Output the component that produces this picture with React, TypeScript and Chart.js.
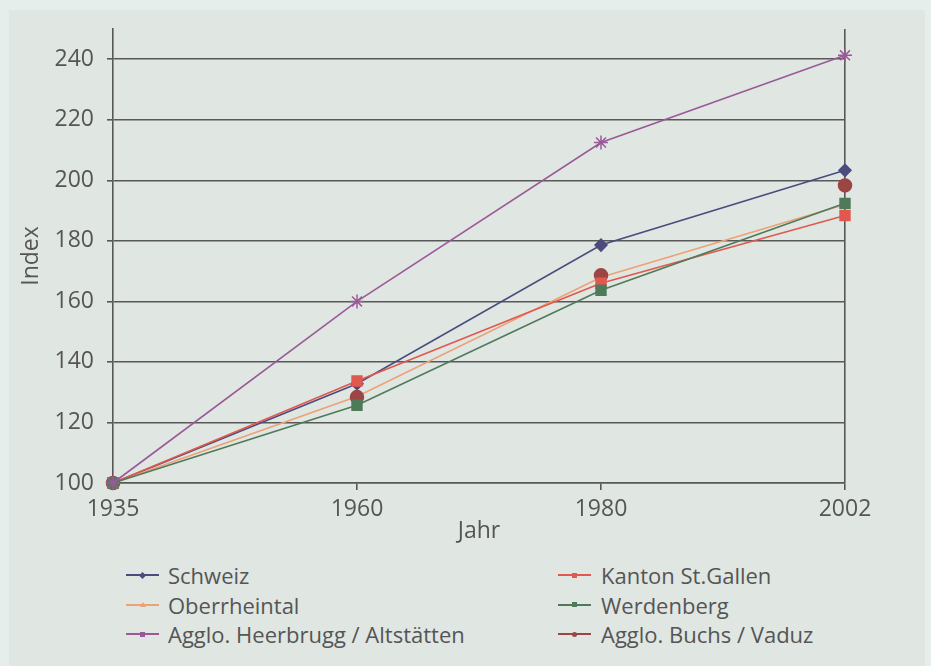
import React, { useEffect, useRef } from "react";
import { Chart, registerables } from "chart.js";

Chart.register(...registerables);

const years = ["1935", "1960", "1980", "2002"];
const schweiz = [100, 132.8, 178.6, 203.3];
const kantonStGallen = [100, 133.7, 166, 188.4];
const oberrheintal = [100, 128.6, 168, 192];
const werdenberg = [100, 125.7, 163.7, 192.4];
const heerbrugg = [100, 160, 212.5, 241.3];
const buchsVaduz = [100, 128.4, 168.6, 198.3];
const yTicks = [100, 120, 140, 160, 180, 200, 220, 240];

const FONT = "'Open Sans', 'Noto Sans', sans-serif";
const TXT = "#555555";
const GRID = "#585858";

const C_SCHWEIZ = "#4b4c7e";
const C_KANTON = "#e0584e";
const C_OBER = "#eca277";
const C_WERD = "#4f7a5a";
const C_HEER = "#9a5a98";
const C_BUCHS = "#9b4545";

type LegendItem = { label: string; color: string; marker: string };
const legendLeft: LegendItem[] = [
  { label: "Schweiz", color: C_SCHWEIZ, marker: "diamond" },
  { label: "Oberrheintal", color: C_OBER, marker: "triangle" },
  { label: "Agglo. Heerbrugg / Altstätten", color: C_HEER, marker: "square" },
];
const legendRight: LegendItem[] = [
  { label: "Kanton St.Gallen", color: C_KANTON, marker: "square" },
  { label: "Werdenberg", color: C_WERD, marker: "square" },
  { label: "Agglo. Buchs / Vaduz", color: C_BUCHS, marker: "circle" },
];

function Marker({ type, color }: { type: string; color: string }) {
  const base: React.CSSProperties = {
    position: "absolute",
    left: "50%",
    top: "50%",
  };
  if (type === "triangle") {
    return (
      <div
        style={{
          ...base,
          width: 0,
          height: 0,
          marginLeft: -3,
          marginTop: -3,
          borderLeft: "3px solid transparent",
          borderRight: "3px solid transparent",
          borderBottom: `5px solid ${color}`,
        }}
      />
    );
  }
  const s = 5;
  return (
    <div
      style={{
        ...base,
        width: s,
        height: s,
        marginLeft: -s / 2,
        marginTop: -s / 2,
        background: color,
        borderRadius: type === "circle" ? "50%" : 0,
        transform: type === "diamond" ? "rotate(45deg)" : undefined,
      }}
    />
  );
}

function LegendColumn({ items, left, textLeft }: { items: LegendItem[]; left: number; textLeft: number }) {
  return (
    <>
      {items.map((it, i) => {
        const cy = 575 + i * 29.5;
        return (
          <React.Fragment key={it.label}>
            <div style={{ position: "absolute", left, top: cy - 6, width: 33, height: 12 }}>
              <div
                style={{
                  position: "absolute",
                  left: 0,
                  right: 0,
                  top: 5,
                  height: 2,
                  background: it.color,
                }}
              />
              <Marker type={it.marker} color={it.color} />
            </div>
            <div
              style={{
                position: "absolute",
                left: textLeft,
                top: cy - 16,
                height: 32,
                lineHeight: "32px",
                fontFamily: FONT,
                fontSize: 22,
                color: TXT,
                whiteSpace: "nowrap",
              }}
            >
              {it.label}
            </div>
          </React.Fragment>
        );
      })}
    </>
  );
}

export default function App() {
  const canvasRef = useRef<HTMLCanvasElement | null>(null);

  useEffect(() => {
    document.body.style.margin = "0";
    document.body.style.background = "#e6eeeb";
    const canvas = canvasRef.current;
    if (!canvas) return;

    const mk = (
      label: string,
      data: number[],
      color: string,
      pointStyle: any,
      radius: number,
      order: number,
      showLine = true
    ) => ({
      label,
      data,
      borderColor: color,
      backgroundColor: color,
      pointBackgroundColor: color,
      pointBorderColor: color,
      pointStyle,
      pointRadius: radius,
      pointBorderWidth: 1.5,
      borderWidth: 1.6,
      tension: 0,
      order,
      showLine,
      clip: false as any,
    });

    const chart = new Chart(canvas, {
      type: "line",
      data: {
        labels: years,
        datasets: [
          mk("Schweiz", schweiz, C_SCHWEIZ, "rectRot", 6, 6),
          mk("Oberrheintal", oberrheintal, C_OBER, "triangle", 3, 5),
          mk("Agglo. Heerbrugg / Altstätten", heerbrugg, C_HEER, "star", 7, 1),
          mk("Kanton St.Gallen", kantonStGallen, C_KANTON, "rect", 7, 3),
          mk("Werdenberg", werdenberg, C_WERD, "rect", 7, 2),
          mk("Agglo. Buchs / Vaduz", buchsVaduz, C_BUCHS, "circle", 6.5, 4, false),
        ],
      },
      options: {
        animation: false,
        responsive: false,
        maintainAspectRatio: false,
        layout: { padding: { top: 29, right: 86, left: 0, bottom: 0 } },
        plugins: {
          legend: { display: false },
          tooltip: { enabled: false },
        },
        scales: {
          x: {
            type: "category",
            offset: false,
            afterFit: (s: any) => {
              s.height = 65;
            },
            grid: {
              color: (ctx: any) => (ctx.index === 3 ? GRID : "rgba(0,0,0,0)"),
              tickColor: GRID,
              lineWidth: 1.6,
              tickLength: 7,
              drawTicks: true,
            },
            border: { color: GRID, width: 1.6 },
            ticks: {
              color: TXT,
              font: { family: FONT, size: 23 },
              padding: 6,
              maxRotation: 0,
            },
            title: {
              display: true,
              text: "Jahr",
              color: TXT,
              font: { family: FONT, size: 23 },
              padding: { top: 0, bottom: 3 },
            },
          },
          y: {
            min: 100,
            max: 250,
            afterBuildTicks: (s: any) => {
              s.ticks = yTicks.map((v) => ({ value: v }));
            },
            afterFit: (s: any) => {
              s.width = 113;
            },
            grid: {
              color: GRID,
              lineWidth: 1.6,
              tickLength: 6,
              drawTicks: true,
            },
            border: { color: GRID, width: 1.6 },
            ticks: {
              color: TXT,
              font: { family: FONT, size: 23 },
              padding: 13,
            },
            title: {
              display: true,
              text: "Index",
              color: TXT,
              font: { family: FONT, size: 23 },
              padding: { top: 18, bottom: 0 },
            },
          },
        },
      },
    });
    return () => chart.destroy();
  }, []);

  return (
    <div style={{ position: "relative", width: 931, height: 666, overflow: "hidden", background: "#e6eeeb" }}>
      <div
        style={{
          position: "absolute",
          left: 9,
          top: 10,
          width: 916,
          height: 656,
          background: "#e0e6e2",
        }}
      />
      <canvas
        ref={canvasRef}
        width={931}
        height={548}
        style={{ position: "absolute", left: 0, top: 0, width: 931, height: 548 }}
      />
      <LegendColumn items={legendLeft} left={126} textLeft={168} />
      <LegendColumn items={legendRight} left={558} textLeft={601} />
    </div>
  );
}
